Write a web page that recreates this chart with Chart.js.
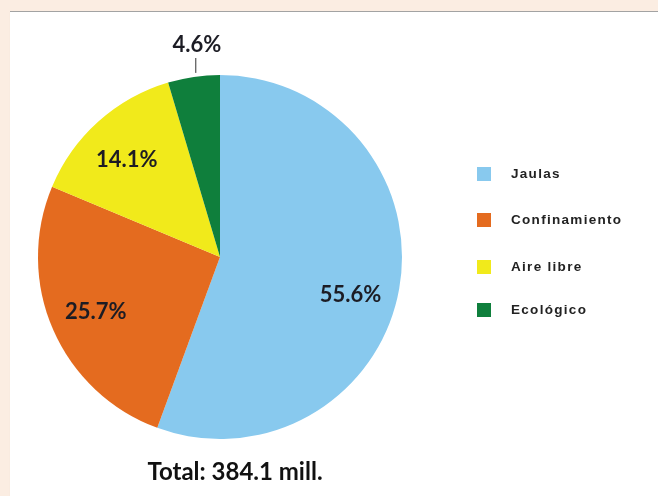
<!DOCTYPE html>
<html>
<head>
<meta charset="utf-8">
<script src="https://cdn.jsdelivr.net/npm/chart.js@4/dist/chart.umd.min.js"></script>
<style>
  html, body { margin: 0; padding: 0; }
  body { width: 658px; height: 496px; background: #fbede2; position: relative; overflow: hidden; }
  .panel { position: absolute; left: 10px; top: 11px; right: 0; bottom: 0; background: #fff; border-top: 1px solid #a3a3a3; box-shadow: 0 1px 1px rgba(0,0,0,0.06); }
  #pie { position: absolute; left: 0; top: 0; }
</style>
</head>
<body>
<div class="panel"></div>
<canvas id="pie" width="658" height="496"></canvas>
<script>
/* Pie: egg production by housing type */
const categories = ["Jaulas", "Confinamiento", "Aire libre", "Ecológico"];
const shares = [55.6, 25.7, 14.1, 4.6];
const sliceColors = ["#88c9ee", "#e46b1f", "#f1ea1b", "#0f7f3c"];
const totalLabel = "Total: 384.1 mill.";

// small angle nudges (deg) for the in-slice labels, last one goes outside
const nudge = [5.5, 0, -1.5, 0];

const labelsPlugin = {
  id: "sliceLabels",
  afterDatasetsDraw(chart) {
    const ctx = chart.ctx;
    const arcs = chart.getDatasetMeta(0).data;
    ctx.save();
    ctx.fillStyle = "#1c1c24";
    ctx.font = "bold 22px Lato, 'Open Sans', sans-serif";
    ctx.textAlign = "center";
    ctx.textBaseline = "middle";
    arcs.forEach((a, i) => {
      const mid = (a.startAngle + a.endAngle) / 2 + nudge[i] * Math.PI / 180;
      const txt = shares[i].toFixed(1) + "%";
      if (i === arcs.length - 1) {
        // outside label with a leader line going straight up
        const ex = a.x + a.outerRadius * Math.cos(mid) + 2;
        const ey = a.y + a.outerRadius * Math.sin(mid);
        ctx.strokeStyle = "#333";
        ctx.lineWidth = 1;
        ctx.beginPath();
        ctx.moveTo(ex, ey - 4);
        ctx.lineTo(ex, a.y - a.outerRadius - 17);
        ctx.stroke();
        ctx.fillText(txt, ex + 1, a.y - a.outerRadius - 30);
      } else {
        const r = a.outerRadius * 0.745;
        ctx.fillText(txt, a.x + r * Math.cos(mid), a.y + r * Math.sin(mid) + 1);
      }
    });

    // total under the pie
    const a0 = arcs[0];
    ctx.font = "bold 24px Lato, 'Open Sans', sans-serif";
    ctx.textBaseline = "alphabetic";
    ctx.fillStyle = "#111";
    ctx.fillText(totalLabel, a0.x + 15, a0.y + a0.outerRadius + 41);

    // legend on the right
    ctx.textAlign = "left";
    ctx.textBaseline = "middle";
    ctx.font = "bold 13.5px 'Liberation Sans', Arial, sans-serif";
    ctx.letterSpacing = "1.3px";
    const rowY = [174, 220, 267, 310];
    categories.forEach((c, i) => {
      ctx.fillStyle = sliceColors[i];
      ctx.fillRect(477, rowY[i] - 7, 14, 14);
      ctx.fillStyle = "#222";
      ctx.fillText(c, 511, rowY[i]);
    });
    ctx.restore();
  }
};

new Chart(document.getElementById("pie").getContext("2d"), {
  type: "pie",
  data: {
    labels: categories,
    datasets: [{ data: shares, backgroundColor: sliceColors, borderWidth: 0 }]
  },
  options: {
    responsive: false,
    animation: false,
    layout: { padding: { left: 38, right: 256, top: 75, bottom: 57 } },
    plugins: { legend: { display: false }, tooltip: { enabled: false } }
  },
  plugins: [labelsPlugin]
});
</script>
</body>
</html>
